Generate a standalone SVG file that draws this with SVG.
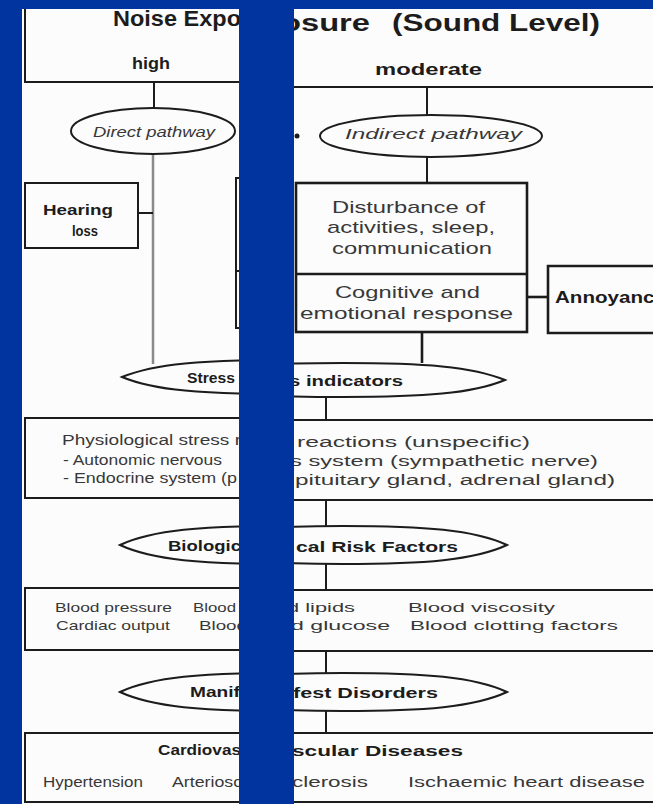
<svg xmlns="http://www.w3.org/2000/svg" width="653" height="804" viewBox="0 0 653 804">
<defs>
<style>
.b{font-family:"Liberation Sans",Arial,sans-serif;font-weight:bold;fill:#1c1c1c}
.r{font-family:"Liberation Sans",Arial,sans-serif;fill:#383838}
.i{font-style:italic;font-weight:normal}
.ln{stroke:#1c1c1c;stroke-width:2;fill:none}
.lg{stroke:#8a8a8a;stroke-width:2.5;fill:none}
.sh{stroke:#1c1c1c;stroke-width:2;fill:#fcfcfc}
.thick{stroke:#1c1c1c;stroke-width:2.6;fill:none}
</style>
<clipPath id="clipL"><rect x="22" y="9" width="217" height="795"/></clipPath>
<clipPath id="clipR"><rect x="294" y="9" width="359" height="795"/></clipPath>
</defs>
<rect x="0" y="0" width="653" height="804" fill="#0234a0"/>
<rect x="22" y="9" width="217" height="795" fill="#fcfcfc"/>
<rect x="294" y="9" width="359" height="795" fill="#fcfcfc"/>

<g id="panel-left" clip-path="url(#clipL)">
  <g id="connectors-left">
    <line class="ln" x1="154" y1="82" x2="154" y2="108"/>
    <line class="lg" x1="153" y1="154" x2="153" y2="364"/>
    <line class="ln" x1="138" y1="213" x2="153" y2="213"/>
  </g>
  <g id="exposure-left">
    <path class="ln" d="M25,9 V82 H240"/>
    <text class="b" x="113" y="26" font-size="22" textLength="128" lengthAdjust="spacingAndGlyphs">Noise Expo</text>
    <text class="b" x="132" y="69" font-size="16" textLength="38" lengthAdjust="spacingAndGlyphs">high</text>
  </g>
  <g id="direct-pathway">
    <ellipse class="sh" cx="153" cy="131" rx="82" ry="23"/>
    <text class="r i" x="93" y="137" font-size="14" textLength="122" lengthAdjust="spacingAndGlyphs">Direct pathway</text>
  </g>
  <g id="hearing-loss">
    <rect class="ln" x="25" y="183" width="113" height="65"/>
    <text class="b" x="43" y="215" font-size="15" fill="#333" textLength="70" lengthAdjust="spacingAndGlyphs">Hearing</text>
    <text class="b" x="72" y="236" font-size="15" fill="#333" textLength="26" lengthAdjust="spacingAndGlyphs">loss</text>
  </g>
  <g id="disturbance-left">
    <path class="ln" d="M240,178 H236 V328 H240 M236,271 H240"/>
  </g>
  <g id="stress-left">
    <path class="sh" d="M122,377 C154.5,363.4 203.25,360 284.5,360 C365.75,360 414.5,363.4 447,377 C414.5,390.6 365.75,394 284.5,394 C203.25,394 154.5,390.6 122,377Z"/>
    <text class="b" x="187" y="383" font-size="15" textLength="48" lengthAdjust="spacingAndGlyphs">Stress</text>
  </g>
  <g id="physiological-left">
    <path class="ln" d="M240,418 H25 V498 H240"/>
    <text class="r" x="62" y="445" font-size="14" textLength="179" lengthAdjust="spacingAndGlyphs">Physiological stress r</text>
    <text class="r" x="63" y="465" font-size="14" textLength="159" lengthAdjust="spacingAndGlyphs">- Autonomic nervous</text>
    <text class="r" x="63" y="483" font-size="14" textLength="174" lengthAdjust="spacingAndGlyphs">- Endocrine system (p</text>
  </g>
  <g id="biological-left">
    <path class="sh" d="M120,545 C152.9,529.8 202.25,526 284.5,526 C366.75,526 416.1,529.8 449,545 C416.1,560.2 366.75,564 284.5,564 C202.25,564 152.9,560.2 120,545Z"/>
    <text class="b" x="168" y="551" font-size="15" textLength="73" lengthAdjust="spacingAndGlyphs">Biologic</text>
  </g>
  <g id="blood-left">
    <path class="ln" d="M240,588 H25 V650 H240"/>
    <text class="r" x="55" y="612" font-size="13.5" textLength="117" lengthAdjust="spacingAndGlyphs">Blood pressure</text>
    <text class="r" x="193" y="612" font-size="13.5" textLength="43" lengthAdjust="spacingAndGlyphs">Blood</text>
    <text class="r" x="56" y="630" font-size="13.5" textLength="114" lengthAdjust="spacingAndGlyphs">Cardiac output</text>
    <text class="r" x="199" y="630" font-size="13.5" textLength="48" lengthAdjust="spacingAndGlyphs">Blood</text>
  </g>
  <g id="manifest-left">
    <path class="sh" d="M120,692 C152.9,676.8 202.25,673 284.5,673 C366.75,673 416.1,676.8 449,692 C416.1,707.2 366.75,711 284.5,711 C202.25,711 152.9,707.2 120,692Z"/>
    <text class="b" x="190" y="697" font-size="15" textLength="50" lengthAdjust="spacingAndGlyphs">Manif</text>
  </g>
  <g id="cardio-left">
    <path class="ln" d="M240,733 H25 V802 H240"/>
    <text class="b" x="158" y="755" font-size="15" textLength="83" lengthAdjust="spacingAndGlyphs">Cardiovas</text>
    <text class="r" x="43" y="787" font-size="14" textLength="100" lengthAdjust="spacingAndGlyphs">Hypertension</text>
    <text class="r" x="172" y="787" font-size="14" textLength="70" lengthAdjust="spacingAndGlyphs">Arteriosc</text>
  </g>
</g>

<g id="panel-right" clip-path="url(#clipR)">
  <g id="connectors-right">
    <line class="ln" x1="427" y1="87" x2="427" y2="115"/>
    <line class="ln" x1="427" y1="157" x2="427" y2="183"/>
    <line class="thick" x1="527" y1="297" x2="548" y2="297"/>
    <line class="thick" x1="422" y1="332" x2="422" y2="363"/>
    <line class="ln" x1="326" y1="397" x2="326" y2="420"/>
    <line class="ln" x1="326" y1="500" x2="326" y2="526"/>
    <line class="ln" x1="326" y1="564" x2="326" y2="590"/>
    <line class="ln" x1="326" y1="651" x2="326" y2="673"/>
    <line class="ln" x1="326" y1="711" x2="326" y2="733"/>
    <circle cx="297" cy="136" r="2.5" fill="#1c1c1c"/>
  </g>
  <g id="exposure-right">
    <line class="ln" x1="293" y1="87" x2="654" y2="87"/>
    <text class="b" x="281" y="31" font-size="23" textLength="89" lengthAdjust="spacingAndGlyphs">osure</text>
    <text class="b" x="392" y="31" font-size="23" textLength="208" lengthAdjust="spacingAndGlyphs">(Sound Level)</text>
    <text class="b" x="375" y="75" font-size="17" textLength="107" lengthAdjust="spacingAndGlyphs">moderate</text>
  </g>
  <g id="indirect-pathway">
    <ellipse class="sh" cx="431" cy="136" rx="111" ry="21"/>
    <text class="r i" x="345" y="139" font-size="15" textLength="177" lengthAdjust="spacingAndGlyphs">Indirect pathway</text>
  </g>
  <g id="disturbance">
    <rect class="thick" x="296" y="183" width="231" height="149"/>
    <line class="thick" x1="296" y1="274" x2="527" y2="274"/>
    <text class="r" x="332" y="213" font-size="17" textLength="153" lengthAdjust="spacingAndGlyphs">Disturbance of</text>
    <text class="r" x="327" y="233" font-size="17" textLength="168" lengthAdjust="spacingAndGlyphs">activities, sleep,</text>
    <text class="r" x="332" y="254" font-size="17" textLength="160" lengthAdjust="spacingAndGlyphs">communication</text>
    <text class="r" x="335" y="298" font-size="17" textLength="145" lengthAdjust="spacingAndGlyphs">Cognitive and</text>
    <text class="r" x="300" y="319" font-size="17" textLength="213" lengthAdjust="spacingAndGlyphs">emotional response</text>
  </g>
  <g id="annoyance">
    <path class="thick" d="M654,266 H548 V333 H654"/>
    <text class="b" x="555" y="303" font-size="16" textLength="111" lengthAdjust="spacingAndGlyphs">Annoyance</text>
  </g>
  <g id="stress-right">
    <path class="sh" d="M180,380 C212.5,366.4 261.25,363 342.5,363 C423.75,363 472.5,366.4 505,380 C472.5,393.6 423.75,397 342.5,397 C261.25,397 212.5,393.6 180,380Z"/>
    <text class="b" x="289" y="386" font-size="15" textLength="114" lengthAdjust="spacingAndGlyphs">s indicators</text>
  </g>
  <g id="physiological-right">
    <path class="ln" d="M293,420 H654 M293,500 H654"/>
    <text class="r" x="297" y="447" font-size="14" textLength="233" lengthAdjust="spacingAndGlyphs">reactions (unspecific)</text>
    <text class="r" x="290" y="466" font-size="14" textLength="308" lengthAdjust="spacingAndGlyphs">s system (sympathetic nerve)</text>
    <text class="r" x="295" y="485" font-size="14" textLength="320" lengthAdjust="spacingAndGlyphs">pituitary gland, adrenal gland)</text>
  </g>
  <g id="biological-right">
    <path class="sh" d="M178,545 C210.9,529.8 260.25,526 342.5,526 C424.75,526 474.1,529.8 507,545 C474.1,560.2 424.75,564 342.5,564 C260.25,564 210.9,560.2 178,545Z"/>
    <text class="b" x="296" y="552" font-size="15" textLength="162" lengthAdjust="spacingAndGlyphs">cal Risk Factors</text>
  </g>
  <g id="blood-right">
    <path class="ln" d="M293,590 H654 M293,651 H654"/>
    <text class="r" x="287" y="612" font-size="13.5" textLength="68" lengthAdjust="spacingAndGlyphs">d lipids</text>
    <text class="r" x="408" y="612" font-size="13.5" textLength="147" lengthAdjust="spacingAndGlyphs">Blood viscosity</text>
    <text class="r" x="291" y="630" font-size="13.5" textLength="99" lengthAdjust="spacingAndGlyphs">d glucose</text>
    <text class="r" x="410" y="630" font-size="13.5" textLength="208" lengthAdjust="spacingAndGlyphs">Blood clotting factors</text>
  </g>
  <g id="manifest-right">
    <path class="sh" d="M178,692 C210.9,676.8 260.25,673 342.5,673 C424.75,673 474.1,676.8 507,692 C474.1,707.2 424.75,711 342.5,711 C260.25,711 210.9,707.2 178,692Z"/>
    <text class="b" x="293" y="698" font-size="15" textLength="145" lengthAdjust="spacingAndGlyphs">fest Disorders</text>
  </g>
  <g id="cardio-right">
    <path class="ln" d="M293,733 H654 M293,802 H654"/>
    <text class="b" x="292" y="756" font-size="15" textLength="171" lengthAdjust="spacingAndGlyphs">scular Diseases</text>
    <text class="r" x="292" y="787" font-size="14" textLength="76" lengthAdjust="spacingAndGlyphs">clerosis</text>
    <text class="r" x="408" y="787" font-size="14" textLength="237" lengthAdjust="spacingAndGlyphs">Ischaemic heart disease</text>
  </g>
</g>
</svg>
